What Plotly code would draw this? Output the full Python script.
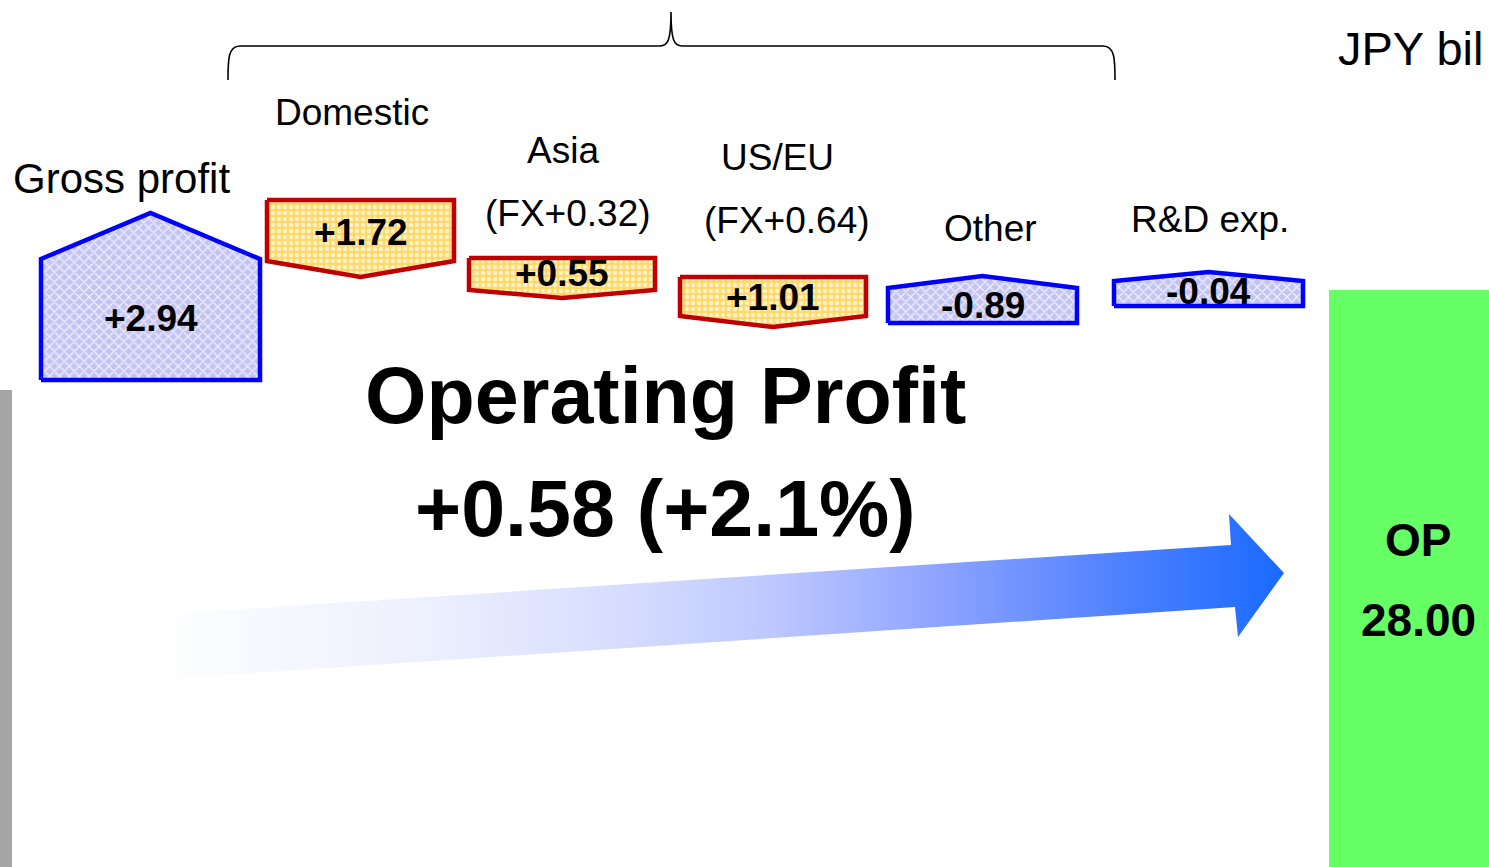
import plotly.graph_objects as go

# ---------------- data ----------------
categories = ["Gross profit", "Domestic", "Asia", "US/EU", "Other", "R&D exp."]
values = [2.94, 1.72, 0.55, 1.01, -0.89, -0.04]
fx_notes = ["", "", "(FX+0.32)", "(FX+0.64)", "", ""]
op_change = 0.58
op_change_pct = 2.1
op_total = 28.00
unit_label = "JPY bil"  # as visible in the (cropped) reference

# ---------------- layout / geometry (pixels) ----------------
W, H = 1489, 867
FONT = "Arial, 'Liberation Sans', sans-serif"
# left, right, flat edge y, shoulder y, apex y, direction
boxes = [
    (41, 260, 380, 259, 213, "up"),
    (267, 454, 200, 261, 277, "down"),
    (469, 655, 258, 290, 298, "down"),
    (680, 866, 277, 316, 327, "down"),
    (888, 1077, 323, 288, 276, "up"),
    (1114, 1303, 306, 281, 272, "up"),
]
value_y = [318, 232, 273, 297, 305, 291]
# category label positions: (x, y, size)
label_pos = [(121, 178, 42), (352, 112, 37), (563, 150, 37), (777, 157, 37),
             (990, 228, 37), (1210, 219, 37)]
fx_pos = [None, None, (568, 213), (787, 220), None, None]

styles = {
    "up": dict(line="#0000FF",
               pattern=dict(shape="x", bgcolor="#c4c4f2", fgcolor="#eeeefd",
                            size=7, solidity=0.35, fillmode="replace")),
    "down": dict(line="#C00000",
                 pattern=dict(shape=".", bgcolor="#ffd866", fgcolor="#fff2c8",
                              size=6, solidity=0.45, fillmode="replace")),
}

fig = go.Figure()

# gradient arrow
ax = [150, 1231, 1229, 1284, 1238, 1235, 150, 150]
ay = [615, 545, 514, 573, 637, 607, 680, 615]
fig.add_trace(go.Scatter(
    x=ax, y=ay, mode="lines", fill="toself", line=dict(width=0),
    fillgradient=dict(type="horizontal", colorscale=[
        [0.0, "rgba(255,255,255,1)"], [0.25, "rgb(236,239,253)"],
        [0.42, "rgb(214,220,255)"], [0.55, "rgb(190,200,255)"],
        [0.70, "rgb(140,162,255)"], [0.85, "rgb(80,130,255)"],
        [1.0, "rgb(26,106,255)"]]),
    hoverinfo="skip", showlegend=False))

# pentagon boxes
for i, (cat, v) in enumerate(zip(categories, values)):
    L, R, flat, sh, apex, d = boxes[i]
    C = (L + R) / 2
    if d == "up":
        xs = [L, L, C, R, R, L]
        ys = [flat, sh, apex, sh, flat, flat]
    else:
        xs = [L, R, R, C, L, L]
        ys = [flat, flat, sh, apex, sh, flat]
    st = styles[d]
    fig.add_trace(go.Scatter(
        x=xs, y=ys, mode="lines", fill="toself",
        line=dict(color=st["line"], width=4.5),
        fillpattern=st["pattern"], fillcolor=st["pattern"]["bgcolor"],
        hoverinfo="skip", showlegend=False))
    fig.add_annotation(x=C, y=value_y[i], text=f"<b>{v:+.2f}</b>", showarrow=False,
                       xanchor="center", yanchor="middle",
                       font=dict(family=FONT, size=37, color="black"))
    lx, ly, ls = label_pos[i]
    fig.add_annotation(x=lx, y=ly, text=cat, showarrow=False,
                       xanchor="center", yanchor="middle",
                       font=dict(family=FONT, size=ls, color="black"))
    if fx_notes[i]:
        fx, fy = fx_pos[i]
        fig.add_annotation(x=fx, y=fy, text=fx_notes[i], showarrow=False,
                           xanchor="center", yanchor="middle",
                           font=dict(family=FONT, size=37, color="black"))

# decorative shapes
fig.add_shape(type="rect", x0=0, x1=12, y0=390, y1=H, xref="x", yref="y",
              fillcolor="#a6a6a6", line_width=0, layer="below")
fig.add_shape(type="rect", x0=1329, x1=W + 5, y0=290, y1=H + 5, xref="x", yref="y",
              fillcolor="#66ff66", line_width=0, layer="below")
fig.add_shape(type="path", xref="x", yref="y",
              path=("M228,80 C228,60 228,46 240,46 L660,46 C668,46 671,40 671,12 "
                    "C671,40 674,46 682,46 L1103,46 C1115,46 1115,60 1115,80"),
              line=dict(color="black", width=1.6))

# headline texts
fig.add_annotation(x=665, y=395, text="<b>Operating Profit</b>", showarrow=False,
                   xanchor="center", yanchor="middle",
                   font=dict(family=FONT, size=79, color="black"))
fig.add_annotation(x=665, y=508, text=f"<b>{op_change:+.2f} (+{op_change_pct}%)</b>",
                   showarrow=False, xanchor="center", yanchor="middle",
                   font=dict(family=FONT, size=79, color="black"))
fig.add_annotation(x=1418, y=540, text="<b>OP</b>", showarrow=False,
                   xanchor="center", yanchor="middle",
                   font=dict(family=FONT, size=46, color="black"))
fig.add_annotation(x=1418, y=620, text=f"<b>{op_total:.2f}</b>", showarrow=False,
                   xanchor="center", yanchor="middle",
                   font=dict(family=FONT, size=46, color="black"))
fig.add_annotation(x=1336, y=48, text=unit_label, showarrow=False,
                   xanchor="left", yanchor="middle",
                   font=dict(family=FONT, size=47, color="black"))

fig.update_layout(
    width=W, height=H, margin=dict(l=0, r=0, t=0, b=0, pad=0),
    paper_bgcolor="white", plot_bgcolor="white", showlegend=False,
    xaxis=dict(range=[0, W], visible=False, fixedrange=True),
    yaxis=dict(range=[H, 0], visible=False, fixedrange=True),
)

fig.write_html("out.html", config=dict(displayModeBar=False),
               post_script="document.body.style.margin='0';document.body.style.overflow='hidden';")
